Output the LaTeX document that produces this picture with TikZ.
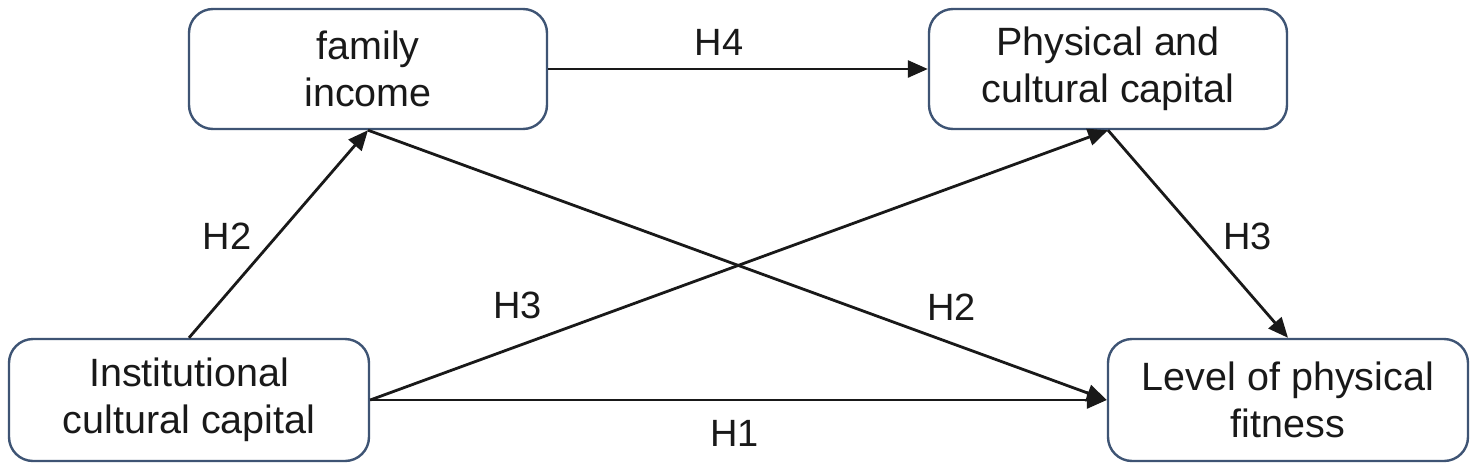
\documentclass[tikz,border=0pt]{standalone}
\usepackage{fontspec}
\setmainfont{Liberation Sans}
\usetikzlibrary{arrows.meta}
\definecolor{boxline}{RGB}{62,84,116}
\definecolor{txt}{RGB}{25,25,25}
\begin{document}
\begin{tikzpicture}[x=1pt,y=-1pt,
  box/.style={draw=boxline,line width=2.4pt,rounded corners=24pt,fill=white,
    minimum width=358pt,minimum height=120pt,align=center,text=txt,
    font=\fontsize{39.5}{47}\selectfont,inner sep=0pt},
  conn/.style={draw=black!90,line width=2.8pt,-{Triangle[length=20pt,width=17pt]}},
  lab/.style={inner sep=0pt,text=txt,font=\fontsize{38}{45}\selectfont}]
\useasboundingbox (0,0) rectangle (1476,469);
\fill[white] (0,0) rectangle (1476,469);
\node[box] (fam) at (368,69) {family\\income};
\node[box] (phys) at (1108,69) {Physical and\\cultural capital};
\node[box,minimum width=360pt,minimum height=122pt] (inst) at (189,400) {Institutional\\cultural capital};
\node[box,minimum width=360pt,minimum height=122pt] (lev) at (1288,400) {Level of physical\\fitness};
\draw[conn] (fam.east) -- node[lab,pos=0.45,above=12pt] {H4} (phys.west);
\draw[conn] (inst.north) -- node[lab,pos=0.49,left=24pt] {H2} (fam.south);
\draw[conn] (fam.south) -- node[lab,pos=0.79,above=21pt] {H2} (lev.west);
\draw[conn] (inst.east) -- node[lab,pos=0.2,above=26pt] {H3} (phys.south);
\draw[conn] (phys.south) -- node[lab,pos=0.51,right=22pt] {H3} (lev.north);
\draw[conn] (inst.east) -- node[lab,pos=0.495,below=19pt] {H1} (lev.west);
\end{tikzpicture}
\end{document}
